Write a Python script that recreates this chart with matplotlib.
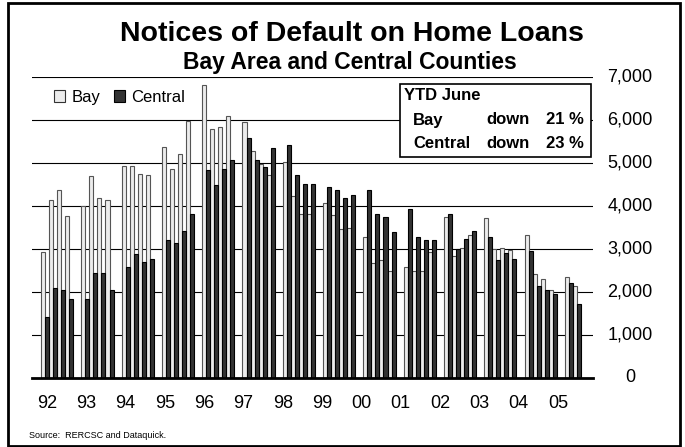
import matplotlib
matplotlib.use("Agg")
import matplotlib.pyplot as plt
from matplotlib.patches import Rectangle, Patch
from matplotlib.transforms import blended_transform_factory

plt.rcParams['font.family'] = ['Liberation Sans', 'DejaVu Sans']

# Quarterly notices of default, 1992 Q1 .. 2005 Q2
years = ["92", "93", "94", "95", "96", "97", "98", "99",
         "00", "01", "02", "03", "04", "05"]
bay = [2920, 4150, 4370, 3760,
       4000, 4690, 4190, 4140,
       4940, 4940, 4750, 4720,
       5380, 4860, 5220, 5980,
       6810, 5800, 5840, 6090,
       5950, 5280, 4980, 4720,
       5020, 4230, 3810, 3810,
       4070, 3780, 3470, 3490,
       3270, 2670, 2740, 2500,
       2580, 2500, 2500, 2940,
       3750, 2840, 3020, 3320,
       3710, 3000, 3020, 2970,
       3320, 2420, 2300, 2050,
       2360, 2130]
central = [1410, 2100, 2050, 1840,
           1840, 2450, 2450, 2050,
           2580, 2890, 2700, 2770,
           3220, 3140, 3430, 3820,
           4830, 4480, 4860, 5080,
           5590, 5060, 4910, 5340,
           5410, 4730, 4510, 4510,
           4440, 4370, 4190, 4250,
           4370, 3820, 3750, 3390,
           3930, 3280, 3200, 3200,
           3820, 3000, 3230, 3410,
           3290, 2750, 2910, 2770,
           2960, 2130, 2050, 1950,
           2210, 1720]
yticks = [0, 1000, 2000, 3000, 4000, 5000, 6000, 7000]
ytd_rows = [("Bay", "down", "21 %"), ("Central", "down", "23 %")]

W, H = 685, 447


def fx(px):
    return px / W


def fy(py):
    return 1 - py / H


fig = plt.figure(figsize=(W / 100, H / 100), dpi=100)
fig.patch.set_facecolor("white")

# outer frame
fig.patches.append(Rectangle((fx(8), fy(446)), fx(680) - fx(8), fy(3) - fy(446),
                             transform=fig.transFigure, fill=False,
                             edgecolor="black", linewidth=2, zorder=0))

ax_l, ax_r, ax_t, ax_b = 32, 593, 77, 378
ax = fig.add_axes([fx(ax_l), fy(ax_b), fx(ax_r) - fx(ax_l), fy(ax_t) - fy(ax_b)])

# each year occupies 4 quarter slots plus one empty slot
pos = [(i // 4) * 5 + (i % 4) for i in range(len(bay))]
ax.bar([p + 0.25 for p in pos], bay, width=0.5, color="#ececec",
       edgecolor="#555555", linewidth=0.8, zorder=3)
ax.bar([p + 0.75 for p in pos], central, width=0.5, color="#333333",
       edgecolor="black", linewidth=0.8, zorder=3)

for v in yticks[1:]:
    ax.axhline(v, color="black", linewidth=0.8, zorder=1)

x0, x1 = -1.12, 68.5
ax.set_ylim(0, 7000)
ax.set_xlim(x0, x1)
for s in ["top", "left", "right"]:
    ax.spines[s].set_visible(False)
ax.spines["bottom"].set_linewidth(2)
ax.spines["bottom"].set_zorder(4)

# value labels to the right of the plot, centred in their column
ax.set_yticks(yticks)
ax.set_yticklabels([])
ax.tick_params(axis="y", length=0, left=False, right=False)
ylab_tr = blended_transform_factory(fig.transFigure, ax.transData)
for v in yticks:
    ax.text(fx(630), v, f"{v:,}", transform=ylab_tr, ha="center", va="center",
            fontsize=13, clip_on=False)

# year labels sit at a steady pitch along the axis
px_per_unit = (ax_r - ax_l) / (x1 - x0)
label_x = [x0 + (47 + 39.3 * i - ax_l) / px_per_unit for i in range(len(years))]
ax.set_xticks(label_x)
ax.set_xticklabels(years, fontsize=13)
ax.tick_params(axis="x", length=0, pad=12)

leg = ax.legend(handles=[Patch(facecolor="#ececec", edgecolor="#333333", linewidth=0.8, label="Bay"),
                         Patch(facecolor="#333333", edgecolor="black", linewidth=0.8, label="Central")],
                loc="upper left", bbox_to_anchor=(0.027, 0.98), ncol=2, frameon=False,
                fontsize=12, handlelength=0.7, handleheight=0.7, handletextpad=0.35,
                columnspacing=0.8, borderaxespad=0)
leg.set_zorder(5)

# titles
fig.text(fx(352), fy(34), "Notices of Default on Home Loans", ha="center", va="center",
         fontsize=20.5, fontweight="bold")
fig.text(fx(350), fy(62), "Bay Area and Central Counties", ha="center", va="center",
         fontsize=16.5, fontweight="bold")

# year-to-date box
box_l, box_t, box_r, box_b = 400, 84, 591, 157
fig.patches.append(Rectangle((fx(box_l), fy(box_b)), fx(box_r) - fx(box_l), fy(box_t) - fy(box_b),
                             transform=fig.transFigure, facecolor="white",
                             edgecolor="black", linewidth=1.2, zorder=5))
fig.text(fx(404), fy(96), "YTD June", ha="left", va="center", fontsize=12,
         fontweight="bold", zorder=6)
for k, (name, word, pct) in enumerate(ytd_rows):
    yy = fy(120 + k * 24)
    fig.text(fx(413), yy, name, ha="left", va="center", fontsize=12, fontweight="bold", zorder=6)
    fig.text(fx(486), yy, word, ha="left", va="center", fontsize=12, fontweight="bold", zorder=6)
    fig.text(fx(584), yy, pct, ha="right", va="center", fontsize=12, fontweight="bold", zorder=6)

fig.text(fx(29), fy(435), "Source:  RERCSC and Dataquick.", ha="left", va="center", fontsize=6.5)

fig.savefig("out.png", dpi=100)
